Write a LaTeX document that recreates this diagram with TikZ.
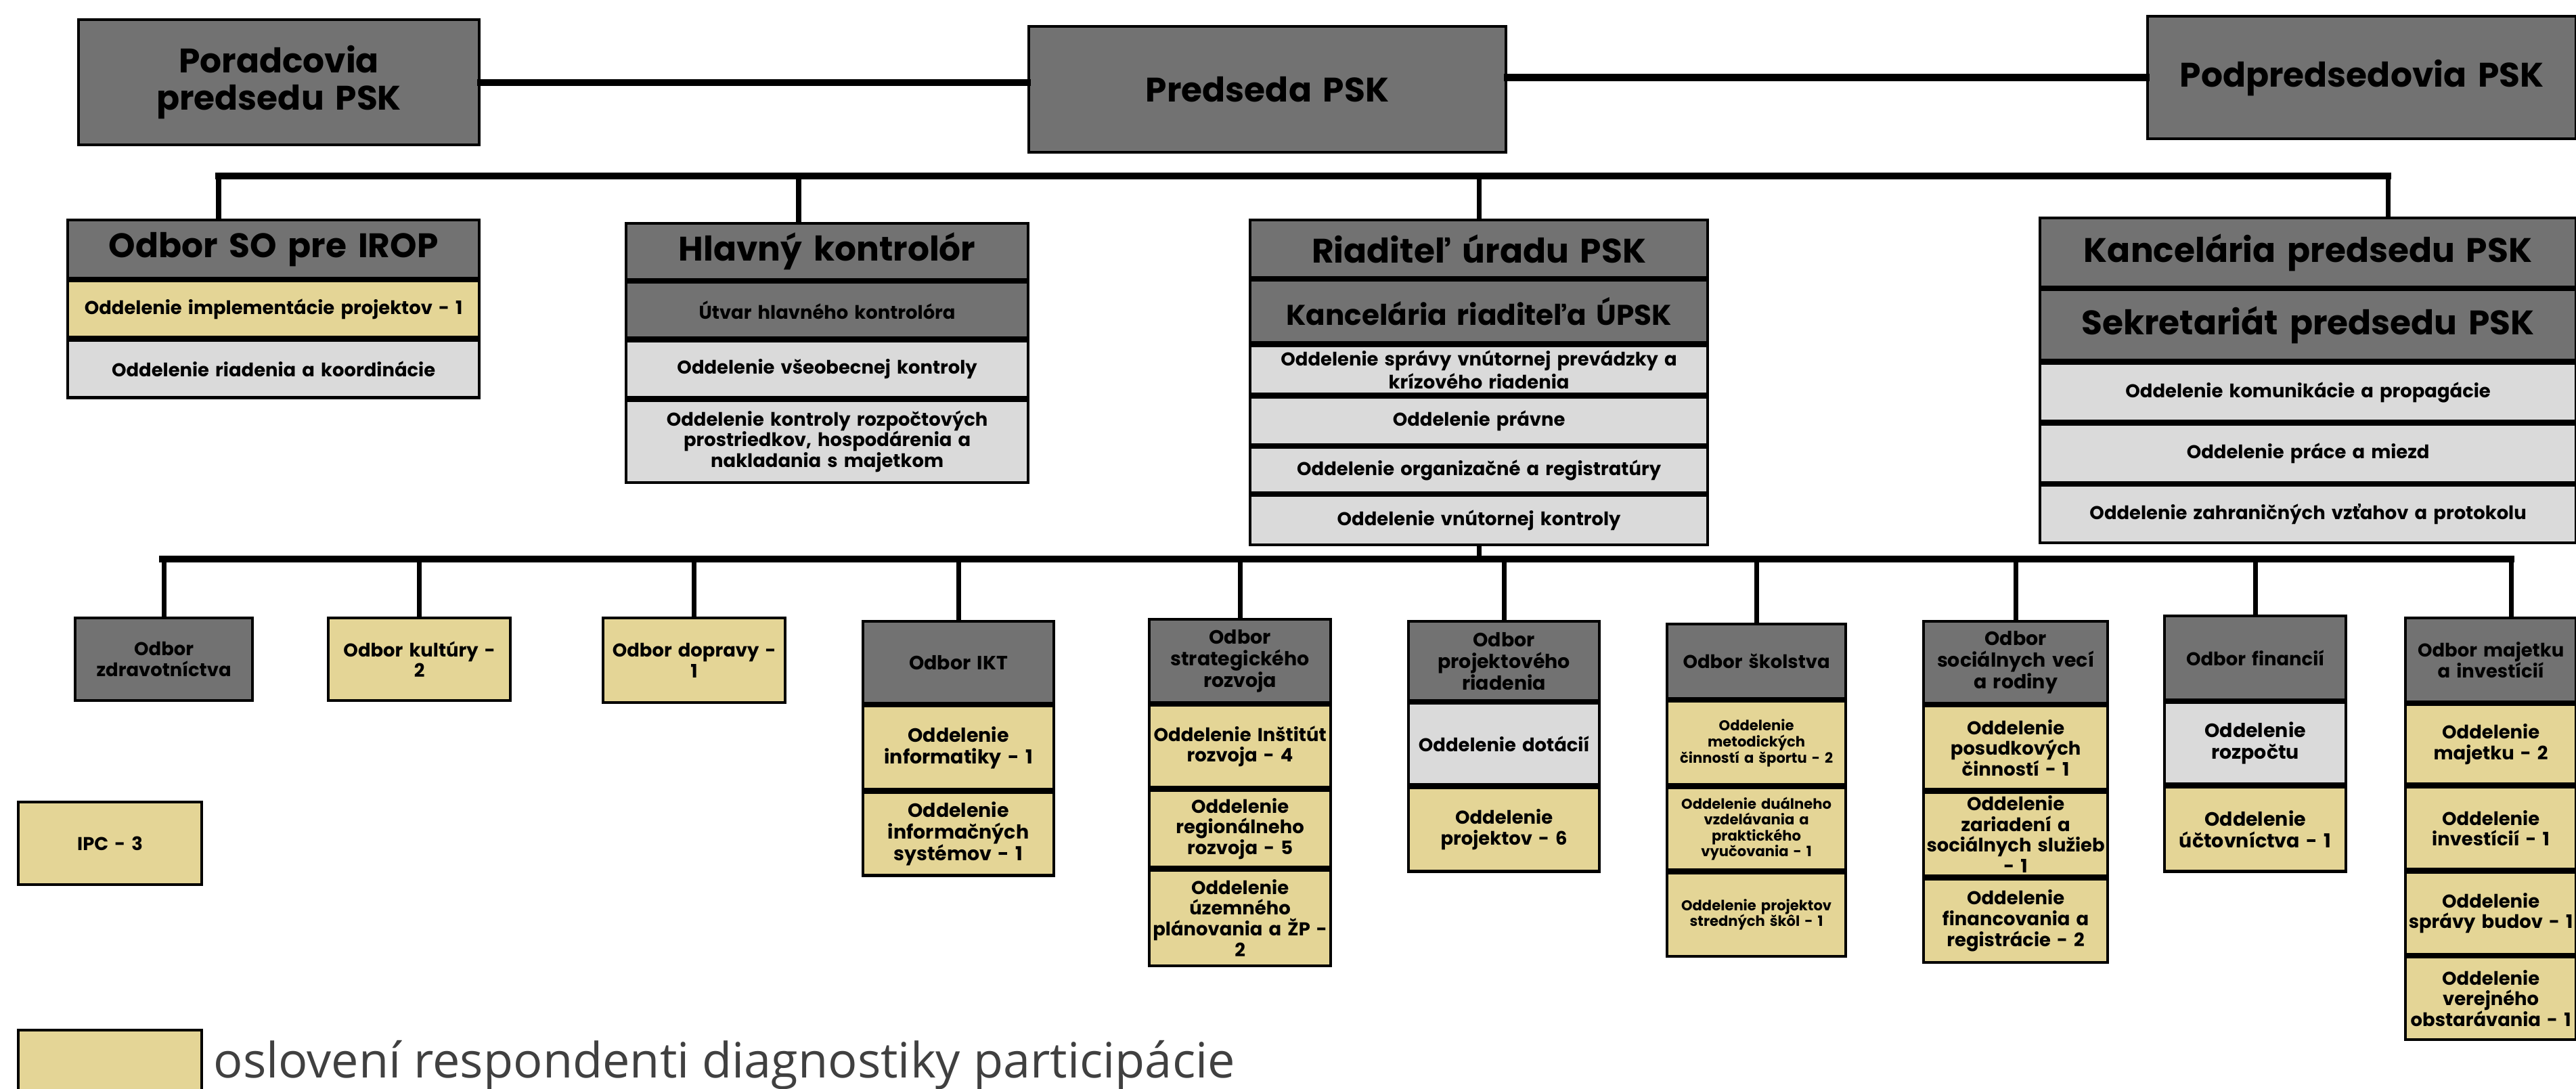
\documentclass[tikz,border=0pt]{standalone}
\usepackage{fontspec}
\setmainfont{Poppins}
\newfontfamily\legendfont{Open Sans}

\definecolor{hdgray}{RGB}{114,114,114}
\definecolor{ltgray}{RGB}{218,218,218}
\definecolor{resptan}{RGB}{228,213,150}
\definecolor{legendgray}{RGB}{64,64,64}

\newcommand\fbig{\fontsize{14.3}{15.6}\selectfont}
\newcommand\fmid{\fontsize{12}{13.4}\selectfont}
\newcommand\fdept{\fontsize{8.1}{9.1}\selectfont}
\newcommand\fsmall{\fontsize{7.8}{8.7}\selectfont}
\newcommand\ftiny{\fontsize{6}{6.7}\selectfont}

\begin{document}
\begin{tikzpicture}[
    cell/.style={draw=black, line width=1.2pt, anchor=north west, align=center,
      inner xsep=0pt, inner ysep=1pt, font=\bfseries\fsmall},
    cellsize/.style 2 args={minimum width=#1cm, text width=#1cm, minimum height=#2cm},
    head/.style={cell, fill=hdgray},
    dept/.style={cell, fill=ltgray},
    resp/.style={cell, fill=resptan},
    bus/.style={line width=2.9pt, line cap=rect},
    drop/.style={line width=2pt}
  ]

  \useasboundingbox (0,0) rectangle (38.06,-16.09);

  \def\bustwo{-2.60}    % upper bus
  \def\busthree{-8.26}  % lower bus

  % top row
  \node[head, cellsize={5.92}{1.85}, font=\bfseries\fbig] (porad) at (1.14,-0.27) {Poradcovia\\predsedu PSK};
  \node[head, cellsize={7.05}{1.86}, font=\bfseries\fbig] (preds) at (15.18,-0.37) {Predseda PSK};
  \node[head, cellsize={6.33}{1.81}, font=\bfseries\fbig] (podpr) at (31.71,-0.22) {Podpredsedovia PSK};

  \draw[bus] (porad.east) -- (porad.east -| preds.west);
  \draw[bus] (podpr.west) -- (podpr.west -| preds.east);

  % odbor SO pre IROP
  \node[head, cellsize={6.08}{0.86}, font=\bfseries\fbig] (irop) at (0.98,-3.23) {Odbor SO pre IROP};
  \node[resp, cellsize={6.08}{0.83}] (irop1) at (irop.south west) {Oddelenie implementácie projektov - 1};
  \node[dept, cellsize={6.08}{0.85}] (irop2) at (irop1.south west) {Oddelenie riadenia a koordinácie};

  % hlavny kontrolor
  \node[head, cellsize={5.94}{0.83}, font=\bfseries\fbig] (hk) at (9.23,-3.28) {Hlavný kontrolór};
  \node[head, cellsize={5.94}{0.82}] (hk1) at (hk.south west) {Útvar hlavného kontrolóra};
  \node[dept, cellsize={5.94}{0.84}] (hk2) at (hk1.south west) {Oddelenie všeobecnej kontroly};
  \node[dept, cellsize={5.94}{1.21}] (hk3) at (hk2.south west) {Oddelenie kontroly rozpočtových\\prostriedkov, hospodárenia a\\nakladania s majetkom};

  % riaditel uradu
  \node[head, cellsize={6.76}{0.85}, font=\bfseries\fbig] (riad) at (18.45,-3.23) {Riaditeľ úradu PSK};
  \node[head, cellsize={6.76}{0.92}, font=\bfseries\fmid] (riad1) at (riad.south west) {Kancelária riaditeľa ÚPSK};
  \node[dept, cellsize={6.76}{0.72}, font=\bfseries\fontsize{7.8}{7.2}\selectfont] (riad2) at (riad1.south west) {Oddelenie správy vnútornej prevádzky a\\krízového riadenia};
  \node[dept, cellsize={6.76}{0.70}] (riad3) at (riad2.south west) {Oddelenie právne};
  \node[dept, cellsize={6.76}{0.67}] (riad4) at (riad3.south west) {Oddelenie organizačné a registratúry};
  \node[dept, cellsize={6.76}{0.73}] (riad5) at (riad4.south west) {Oddelenie vnútornej kontroly};

  % kancelaria predsedu
  \node[head, cellsize={7.92}{1.02}, font=\bfseries\fbig] (kanc) at (30.12,-3.20) {Kancelária predsedu PSK};
  \node[head, cellsize={7.92}{1.04}, font=\bfseries\fbig] (kanc1) at (kanc.south west) {Sekretariát predsedu PSK};
  \node[dept, cellsize={7.92}{0.86}] (kanc2) at (kanc1.south west) {Oddelenie komunikácie a propagácie};
  \node[dept, cellsize={7.92}{0.86}] (kanc3) at (kanc2.south west) {Oddelenie práce a miezd};
  \node[dept, cellsize={7.92}{0.85}] (kanc4) at (kanc3.south west) {Oddelenie zahraničných vzťahov a protokolu};

  % upper bus
  \coordinate (b2l) at (3.23,\bustwo);
  \coordinate (b2hk) at (11.80,\bustwo);
  \coordinate (b2r) at (35.28,\bustwo);
  \draw[bus] (b2l) -- (b2r);
  \draw[drop] (b2l) -- (b2l |- irop.north);
  \draw[drop] (b2hk) -- (b2hk |- hk.north);
  \draw[drop] (riad.north) -- (riad.north |- b2l);
  \draw[drop] (b2r) -- (b2r |- kanc.north);

  % odbory
  \node[head, cellsize={2.62}{1.22}] (zdrav) at (1.09,-9.11) {Odbor\\zdravotníctva};
  \node[resp, cellsize={2.69}{1.22}] (kult) at (4.83,-9.11) {Odbor kultúry -\\2};
  \node[resp, cellsize={2.69}{1.25}] (dopr) at (8.89,-9.11) {Odbor dopravy -\\1};

  \node[head, cellsize={2.82}{1.21}, font=\bfseries\fdept] (ikt) at (12.73,-9.16) {Odbor IKT};
  \node[resp, cellsize={2.82}{1.23}, font=\bfseries\fdept] (ikt1) at (ikt.south west) {Oddelenie\\informatiky - 1};
  \node[resp, cellsize={2.82}{1.23}, font=\bfseries\fdept] (ikt2) at (ikt1.south west) {Oddelenie\\informačných\\systémov - 1};

  \node[head, cellsize={2.68}{1.23}, font=\bfseries\fdept] (strat) at (16.96,-9.13) {Odbor\\strategického\\rozvoja};
  \node[resp, cellsize={2.68}{1.21}] (strat1) at (strat.south west) {Oddelenie Inštitút\\rozvoja - 4};
  \node[resp, cellsize={2.68}{1.14}] (strat2) at (strat1.south west) {Oddelenie\\regionálneho\\rozvoja - 5};
  \node[resp, cellsize={2.68}{1.41}] (strat3) at (strat2.south west) {Oddelenie\\územného\\plánovania a ŽP -\\2};

  \node[head, cellsize={2.82}{1.17}, font=\bfseries\fdept] (proj) at (20.79,-9.16) {Odbor\\projektového\\riadenia};
  \node[dept, cellsize={2.82}{1.20}] (proj1) at (proj.south west) {Oddelenie dotácií};
  \node[resp, cellsize={2.82}{1.24}] (proj2) at (proj1.south west) {Oddelenie\\projektov - 6};

  \node[head, cellsize={2.64}{1.10}] (skol) at (24.61,-9.20) {Odbor školstva};
  \node[resp, cellsize={2.64}{1.23}, font=\bfseries\ftiny] (skol1) at (skol.south west) {Oddelenie\\metodických\\činností a športu - 2};
  \node[resp, cellsize={2.64}{1.22}, font=\bfseries\ftiny] (skol2) at (skol1.south west) {Oddelenie duálneho\\vzdelávania a\\praktického\\vyučovania - 1};
  \node[resp, cellsize={2.64}{1.23}, font=\bfseries\ftiny] (skol3) at (skol2.south west) {Oddelenie projektov\\stredných škôl - 1};

  \node[head, cellsize={2.72}{1.21}, font=\bfseries\fdept] (soc) at (28.40,-9.16) {Odbor\\sociálnych vecí\\a rodiny};
  \node[resp, cellsize={2.72}{1.23}] (soc1) at (soc.south west) {Oddelenie\\posudkových\\činností - 1};
  \node[resp, cellsize={2.72}{1.24}] (soc2) at (soc1.south west) {Oddelenie\\zariadení a\\sociálnych služieb\\- 1};
  \node[resp, cellsize={2.72}{1.23}] (soc3) at (soc2.south west) {Oddelenie\\financovania a\\registrácie - 2};

  \node[head, cellsize={2.68}{1.24}] (fin) at (31.96,-9.08) {Odbor financií};
  \node[dept, cellsize={2.68}{1.20}, font=\bfseries\fdept] (fin1) at (fin.south west) {Oddelenie\\rozpočtu};
  \node[resp, cellsize={2.68}{1.25}, font=\bfseries\fdept] (fin2) at (fin1.south west) {Oddelenie\\účtovníctva - 1};

  \node[head, cellsize={2.52}{1.24}] (maj) at (35.52,-9.11) {Odbor majetku\\a investícií};
  \node[resp, cellsize={2.52}{1.17}] (maj1) at (maj.south west) {Oddelenie\\majetku - 2};
  \node[resp, cellsize={2.52}{1.22}] (maj2) at (maj1.south west) {Oddelenie\\investícií - 1};
  \node[resp, cellsize={2.52}{1.21}] (maj3) at (maj2.south west) {Oddelenie\\správy budov - 1};
  \node[resp, cellsize={2.52}{1.22}] (maj4) at (maj3.south west) {Oddelenie\\verejného\\obstarávania - 1};

  % lower bus
  \coordinate (b3l) at (2.40,\busthree);
  \coordinate (b3r) at (37.10,\busthree);
  \draw[bus] (b3l) -- (b3r);
  \draw[drop] (riad5.south) -- (riad5.south |- b3l);
  \foreach \n in {zdrav,kult,dopr,ikt,strat,proj,skol,soc,fin}
    \draw[drop] (\n.north) -- (\n.north |- b3l);
  \draw[drop] (b3r) -- (b3r |- maj.north);

  % IPC
  \node[resp, cellsize={2.71}{1.22}] (ipc) at (0.25,-11.83) {IPC - 3};

  % legend
  \node[resp, cellsize={2.71}{0.95}] (legbox) at (0.25,-15.20) {};
  \node[anchor=base west, inner sep=0pt, text=legendgray,
    font=\legendfont\fontsize{20.5}{24}\selectfont] (legtext) at (3.15,-15.93)
    {oslovení respondenti diagnostiky participácie};

\end{tikzpicture}
\end{document}
